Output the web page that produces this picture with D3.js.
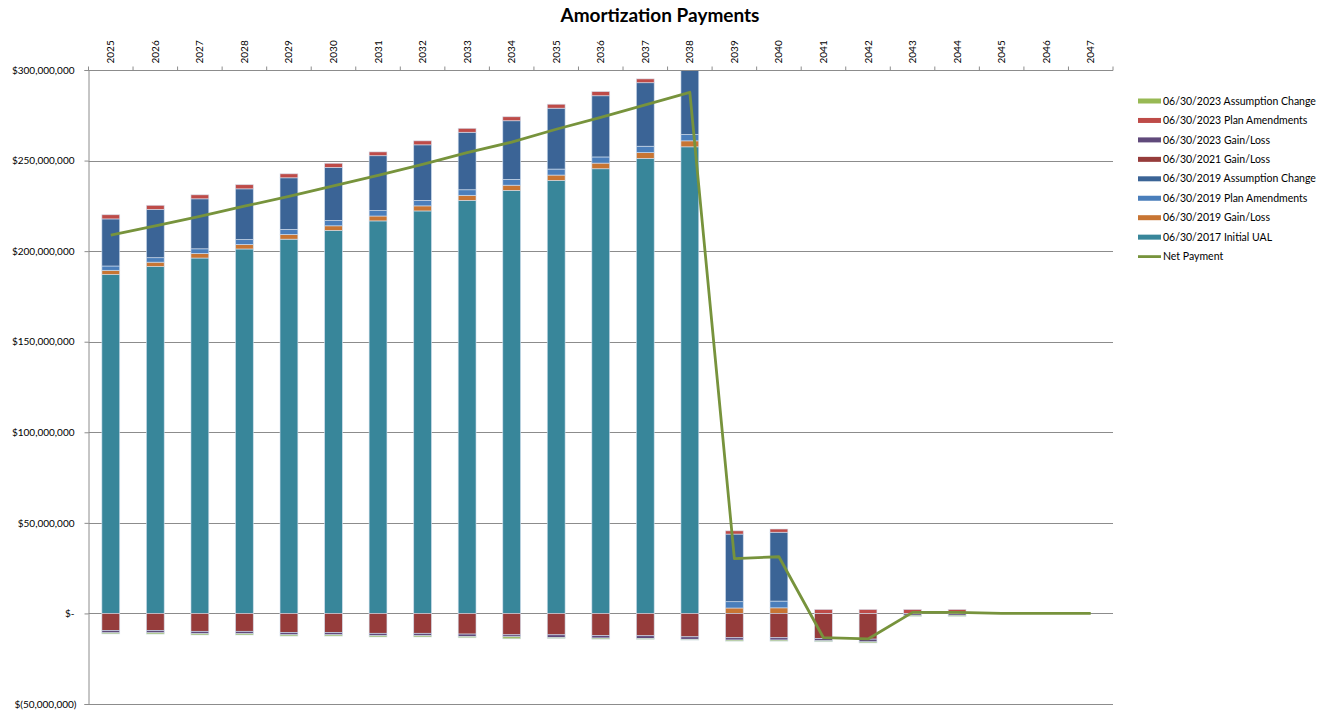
<!DOCTYPE html>
<html>
<head>
<meta charset="utf-8">
<script src="https://cdn.jsdelivr.net/npm/d3@7"></script>
<style>
  body { margin: 0; background: #fff; }
  svg { display: block; }
  text { font-family: Lato, "Open Sans", sans-serif; fill: #000; }
</style>
</head>
<body>
<svg id="chart" width="1330" height="715"></svg>
<script>
// Amortization payment schedule, values in millions of dollars
const years = ["2025","2026","2027","2028","2029","2030","2031","2032","2033","2034","2035","2036",
               "2037","2038","2039","2040","2041","2042","2043","2044","2045","2046","2047"];

const initialUAL2017   = [187.1,191.5,196.2,201.2,206.6,211.4,216.7,222.2,228.0,233.5,239.0,245.5,251.2,257.6,0,0,0,0,0,0,0,0,0];
const gainLoss2019     = [2.3,2.4,2.5,2.5,2.6,2.6,2.7,2.8,2.8,2.9,3.0,3.1,3.2,3.3,3.0,3.1,0,0,0,0,0,0,0];
const planAmend2019    = [2.4,2.5,2.6,2.7,2.8,2.9,3.0,3.0,3.1,3.2,3.3,3.4,3.5,3.5,3.5,3.7,0,0,0,0,0,0,0];
const assumption2019   = [26.0,26.6,27.6,28.0,28.5,29.3,30.3,30.7,31.7,32.4,33.6,33.8,35.1,35.8,37.3,38.0,0,0,0,0,0,0,0];
const gainLoss2021     = [-9.4,-9.4,-9.9,-9.9,-10.5,-10.5,-11.0,-11.0,-11.4,-11.8,-11.8,-12.2,-12.3,-12.9,-13.4,-13.4,-13.9,-14.2,0,0,0,0,0];
const gainLoss2023     = [-1.3,-1.3,-1.3,-1.3,-1.3,-1.3,-1.3,-1.3,-1.3,-1.1,-1.5,-1.4,-1.5,-1.4,-1.3,-1.3,-1.2,-1.5,-1.0,-1.0,0,0,0];
const planAmend2023    = [2.3,2.3,2.2,2.3,2.2,2.3,2.1,2.2,2.2,2.2,2.2,2.3,2.1,2.2,1.8,1.8,2.2,2.2,2.2,2.2,0,0,0];
const assumption2023   = [-0.6,-0.7,-0.7,-0.7,-0.7,-0.7,-0.7,-0.7,-0.7,-1.1,-0.5,-0.6,-0.5,-0.4,-0.6,-0.6,-0.5,-0.6,-0.6,-0.6,0,0,0];
const netPayment       = [208.8,213.9,219.2,224.8,230.2,236.0,241.8,247.9,254.4,260.2,267.3,273.9,280.8,287.7,30.3,31.3,-13.4,-14.1,0.6,0.6,0,0,0];

const yTickValues = [300, 250, 200, 150, 100, 50, 0, -50];

// Series in stacking order (first = closest to the zero line)
const series = [
  { key: "ual17", name: "06/30/2017 Initial UAL",       values: initialUAL2017, color: "#38869A" },
  { key: "gl19",  name: "06/30/2019 Gain/Loss",         values: gainLoss2019,   color: "#C87533" },
  { key: "pa19",  name: "06/30/2019 Plan Amendments",   values: planAmend2019,  color: "#4A7EBB" },
  { key: "ac19",  name: "06/30/2019 Assumption Change", values: assumption2019, color: "#3B6496" },
  { key: "gl21",  name: "06/30/2021 Gain/Loss",         values: gainLoss2021,   color: "#963C3B" },
  { key: "gl23",  name: "06/30/2023 Gain/Loss",         values: gainLoss2023,   color: "#604A7B" },
  { key: "pa23",  name: "06/30/2023 Plan Amendments",   values: planAmend2023,  color: "#BE4B48" },
  { key: "ac23",  name: "06/30/2023 Assumption Change", values: assumption2023, color: "#98B954" }
];
const lineColor = "#77933C";

const rows = years.map((yr, i) => {
  const r = { year: yr };
  series.forEach(s => r[s.key] = s.values[i]);
  return r;
});

const svg = d3.select("#chart");
const plot = { left: 88.5, right: 1113, top: 70, bottom: 704 };

const x = d3.scaleBand().domain(years).range([plot.left, plot.right]).padding(0);
const y = d3.scaleLinear().domain([-50, 300]).range([plot.bottom, plot.top]);
const barW = x.bandwidth() * 0.4;
const cx = d => x(d) + x.bandwidth() / 2;

const money = v => {
  if (v === 0) return "$-";
  const s = d3.format(",")(Math.abs(v) * 1e6);
  return v < 0 ? "$(" + s + ")" : "$" + s;
};

// Title
svg.append("text")
  .attr("x", 660).attr("y", 22)
  .attr("text-anchor", "middle")
  .style("font-size", "19px").style("font-weight", "bold")
  .text("Amortization Payments");

// Horizontal gridlines
svg.append("g")
  .selectAll("line").data(yTickValues).join("line")
  .attr("x1", plot.left).attr("x2", plot.right)
  .attr("y1", d => Math.round(y(d)) + 0.5).attr("y2", d => Math.round(y(d)) + 0.5)
  .attr("stroke", "#8c8c8c").attr("stroke-width", 1);

// Left value axis
const yAxis = svg.append("g")
  .attr("transform", `translate(${plot.left},0)`)
  .call(d3.axisLeft(y).tickValues(yTickValues).tickFormat(money).tickSize(4).tickPadding(10));
yAxis.select(".domain").attr("stroke", "#8c8c8c");
yAxis.selectAll(".tick line").attr("stroke", "#8c8c8c");
yAxis.selectAll(".tick text").style("font-size", "10px").attr("fill", "#000")
  .attr("dx", d => d < 0 ? 2 : 0);

// Stacked bars (positive and negative parts stacked separately)
const stack = d3.stack().keys(series.map(s => s.key)).offset(d3.stackOffsetDiverging);
const layers = stack(rows);

svg.append("clipPath").attr("id", "plotClip")
  .append("rect").attr("x", plot.left).attr("y", plot.top)
  .attr("width", plot.right - plot.left).attr("height", plot.bottom - plot.top);

const barsG = svg.append("g").attr("clip-path", "url(#plotClip)");
barsG.selectAll("g.layer").data(layers).join("g")
  .attr("class", "layer")
  .attr("fill", (d, i) => series[i].color)
  .selectAll("rect")
  .data(d => d.filter(p => p[1] !== p[0]).map(p => ({ p, year: p.data.year })))
  .join("rect")
  .attr("x", d => cx(d.year) - barW / 2)
  .attr("width", barW)
  .attr("y", d => y(Math.max(d.p[0], d.p[1])))
  .attr("height", d => Math.abs(y(d.p[0]) - y(d.p[1])))
  .attr("stroke", "rgba(214,226,240,0.75)")
  .attr("stroke-width", 0.8);

// Top category axis
const topAxis = svg.append("g");
topAxis.append("line")
  .attr("x1", plot.left).attr("x2", plot.right)
  .attr("y1", plot.top + 0.5).attr("y2", plot.top + 0.5)
  .attr("stroke", "#8c8c8c");
topAxis.selectAll("line.tick").data(years.concat(["_end"])).join("line")
  .attr("class", "tick")
  .attr("x1", d => d === "_end" ? plot.right : x(d))
  .attr("x2", d => d === "_end" ? plot.right : x(d))
  .attr("y1", plot.top + 0.5).attr("y2", plot.top - 3.5)
  .attr("stroke", "#8c8c8c");
topAxis.selectAll("text").data(years).join("text")
  .attr("transform", d => `translate(${cx(d)},63.5) rotate(-90)`)
  .attr("dy", "0.35em")
  .attr("text-anchor", "start")
  .style("font-size", "10px")
  .text(d => d);

// Net payment line
const line = d3.line().x((d, i) => cx(years[i])).y(d => y(d));
svg.append("path")
  .datum(netPayment)
  .attr("d", line)
  .attr("fill", "none")
  .attr("stroke", lineColor)
  .attr("stroke-width", 2.8)
  .attr("stroke-linejoin", "round");

// Legend (top of stack listed first)
const legendItems = series.slice().reverse().map(s => ({ name: s.name, color: s.color, type: "bar" }))
  .concat([{ name: "Net Payment", color: lineColor, type: "line" }]);
const legend = svg.append("g");
const li = legend.selectAll("g").data(legendItems).join("g")
  .attr("transform", (d, i) => `translate(1138,${101 + i * 19.45})`);
li.filter(d => d.type === "bar").append("rect")
  .attr("x", 0).attr("y", -2.5).attr("width", 23).attr("height", 5)
  .attr("fill", d => d.color);
li.filter(d => d.type === "line").append("line")
  .attr("x1", 0).attr("x2", 23).attr("y1", 0).attr("y2", 0)
  .attr("stroke", d => d.color).attr("stroke-width", 2.8);
li.append("text")
  .attr("x", 25).attr("dy", "0.35em")
  .style("font-size", "10.5px")
  .text(d => d.name);
</script>
</body>
</html>
